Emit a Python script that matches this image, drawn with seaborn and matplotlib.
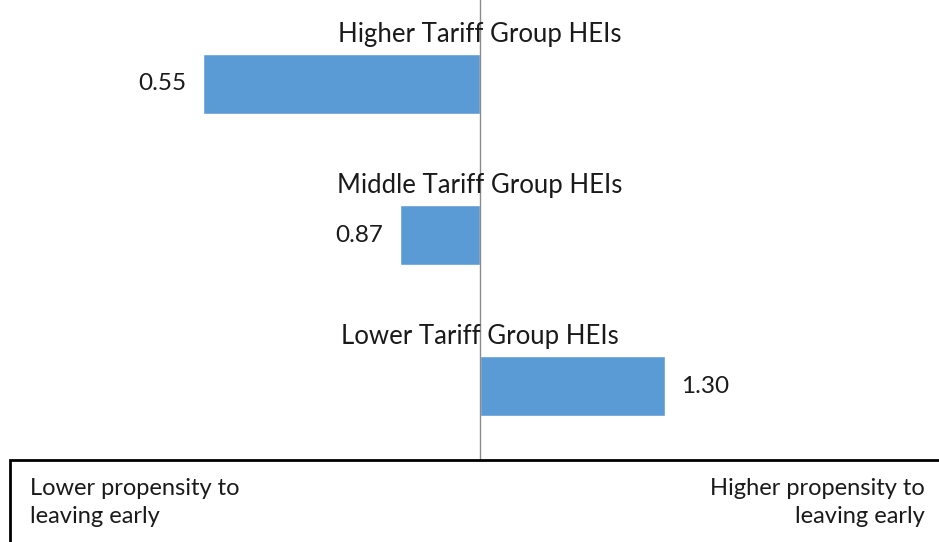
import matplotlib
matplotlib.use("Agg")
import matplotlib.pyplot as plt
import seaborn as sns
import pandas as pd
from matplotlib.patches import Rectangle

groups = ["Higher Tariff Group HEIs", "Middle Tariff Group HEIs", "Lower Tariff Group HEIs"]
odds = [0.55, 0.87, 1.30]
left_note = "Lower propensity to\nleaving early"
right_note = "Higher propensity to\nleaving early"

sns.set_style("white")
plt.rcParams['font.family'] = ['Lato', 'DejaVu Sans']

df = pd.DataFrame({"group": groups, "odds": odds})
df["diff"] = df["odds"] - 1  # bars drawn from the reference value 1

fig = plt.figure(figsize=(9.39, 5.42), dpi=100)
ax = fig.add_axes([0, 82 / 542, 1, 460 / 542])

sns.barplot(data=df, x="diff", y="group", orient="h", color="#5B9BD5",
            width=0.4, saturation=1, ax=ax)

ax.set_xlim(-480 / 615, 459 / 615)
ax.set_ylim(2 + 74 / 151, -84 / 151)
ax.axvline(0, color="#8c8c8c", lw=1)

ax.bar_label(ax.containers[0], labels=["%.2f" % v for v in odds],
             padding=12, fontsize=17.5, color="#1a1a1a")

for i, g in enumerate(groups):
    ax.text(0, i - 0.28, g, ha="center", va="baseline", fontsize=18.5, color="#1a1a1a")

ax.set_xlabel("")
ax.set_ylabel("")
ax.set_xticks([])
ax.set_yticks([])
sns.despine(ax=ax, left=True, bottom=True)

fig.patches.append(Rectangle((10 / 939, -0.05), 1.0, 82 / 542 + 0.05,
                             transform=fig.transFigure, fill=False,
                             edgecolor="black", lw=2))
fig.text(30 / 939, 1 - 478 / 542, left_note, ha="left", va="top",
         fontsize=17, color="#1a1a1a", linespacing=1.4)
fig.text(925 / 939, 1 - 478 / 542, right_note, ha="right", va="top",
         fontsize=17, color="#1a1a1a", linespacing=1.4, multialignment="right")

fig.savefig("out.png", dpi=100)
